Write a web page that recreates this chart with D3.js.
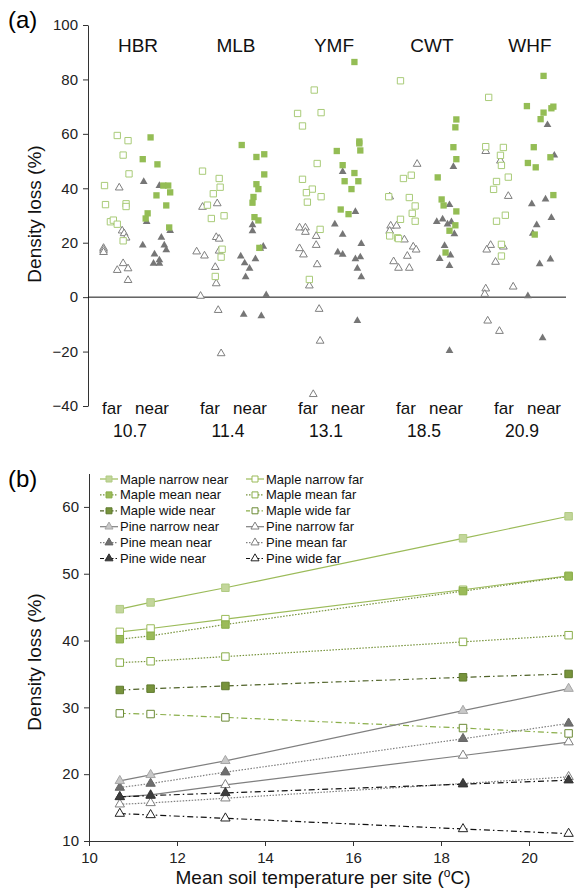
<!DOCTYPE html>
<html>
<head>
<meta charset="utf-8">
<script src="https://cdn.jsdelivr.net/npm/d3@7"></script>
<style>
  body { margin: 0; background: #fff; }
  svg { font-family: "Liberation Sans", Arial, sans-serif; }
</style>
</head>
<body>
<svg width="574" height="894"></svg>
<script>
// ---- panel (a) data: [jitter (% of site step), density loss %] ----
const sites = ["HBR", "MLB", "YMF", "CWT", "WHF"];
const siteTemps = ["10.7", "11.4", "13.1", "18.5", "20.9"];

const mapleFar = [
  [[-26,41],[-25,34],[-13,59.4],[-2,57.5],[-7,52.2],[-1,45.3],[-20,27.7],[-17,28.3],[-13,26.8],[-4,34.3],[-4,33.3],[-7,20.7]],
  [[-26,46.3],[-9,43.6],[-8,40.4],[-15,38],[-21,33.8],[-17,28.9],[-4,29.9],[-6,17.6],[-7,14.7],[-13,7.6]],
  [[-12,76.1],[-29,67.5],[-5,67.8],[-24,62.9],[-9,49.1],[-24,43.3],[-14,39.7],[-20,38.4],[-5,36.9],[-19,34.9],[-6,24.9],[-17,6.5]],
  [[-24,79.5],[-21,43.6],[-13,44.8],[-36,36.9],[-15,36.6],[-9,33.5],[-12,30.8],[-24,28.6],[-9,27.9],[-35,22.5],[-27,21.8],[-26,21.5]],
  [[-34,73.4],[-37,55.3],[-19,55],[-22,52.1],[-21,48.4],[-14,44.1],[-26,42.5],[-29,39.6],[-17,30.1],[-26,27.9],[-21,19.4],[-21,15.1]]
];
const pineFar = [
  [[-27,18],[-27,17.3],[-27,16.5],[-11,40.2],[-8,24.4],[-6,23.4],[-4,21.8],[-7,12.4],[-13,9.9],[-2,10.5],[-2,6.2]],
  [[-26,33.1],[-11,34.4],[-12,22],[-9,21.4],[-32,16.7],[-24,15.2],[-9,17],[-13,11],[-12,5],[-28,0.4],[-10,-4.8],[-7,-20.7]],
  [[-27,25.5],[-21,25.5],[-21,23.9],[-10,22.4],[-10,19.1],[-27,17.9],[-23,15.6],[-9,12],[-17,4.2],[-7,-4.4],[-6,-16.1],[-13,-35.7]],
  [[-7,48.9],[-35,36.9],[-34,26.2],[-28,26.2],[-35,24.3],[-20,21.1],[-11,18.5],[-8,17.4],[-17,15.1],[-31,13.1],[-26,10.7],[-15,10.7]],
  [[-37,53.6],[-22,50.1],[-14,37.1],[-32,19.1],[-36,17.4],[-19,18.5],[-27,12.9],[-37,3.1],[-38,1.1],[-9,3.8],[-35,-8.7],[-23,-12.5]]
];
const mapleNear = [
  [[21,58.7],[13,50.7],[28,48.8],[34,41],[39,41],[41,38.5],[27,37.4],[37,33.7],[18,30.8],[16,28.9],[40,25.6]],
  [[14,55.9],[29,51.5],[37,52.5],[37,45.1],[29,41.5],[31,39.7],[26,36.8],[25,34.7],[27,29.4],[31,28.2],[32,18.1]],
  [[29,86.4],[34,57.2],[34,56.5],[35,53.9],[11,53.7],[17,48.5],[29,45.6],[19,42.6],[33,42.6],[26,39.7],[15,32.2],[23,30.5]],
  [[33,65.3],[32,62.4],[30,55.1],[33,50.7],[14,44],[18,35.9],[20,33.7],[33,31.5],[32,26.4],[26,24.4],[22,16.4]],
  [[22,81.3],[5,70.2],[22,67.8],[30,69.4],[32,70],[19,65.4],[12,55.1],[6,49.3],[14,47.7],[29,51.4],[32,37.5],[13,23]]
];
const pineNear = [
  [[14,42.4],[30,40.9],[17,27.7],[41,24.4],[13,19.1],[32,21.9],[35,19.1],[37,17.3],[25,15.8],[24,12.4],[30,13.6],[30,12.4]],
  [[25,26.5],[25,24.3],[36,18.6],[33,17.9],[13,15],[17,12.5],[28,14],[22,10.5],[18,7.4],[39,0.8],[16,-6.4],[34,-6.9]],
  [[17,46.1],[30,31.4],[9,26.8],[17,23],[36,19.6],[12,16.5],[17,15.7],[35,14.7],[30,14],[32,10.5],[36,7.4],[32,-8.7]],
  [[30,47.9],[26,33.9],[13,27.7],[19,28.6],[24,26.8],[28,27.6],[31,23.2],[21,18.9],[27,15.4],[16,14.1],[26,11.5],[26,-19.7]],
  [[26,63.3],[33,52.1],[10,34.2],[24,36],[30,29.2],[15,26.5],[11,23.4],[18,12.2],[29,13.9],[6,0.4],[21,-15]]
];

// ---- panel (b) data ----
const temps = [10.7, 11.4, 13.1, 18.5, 20.9];
const mapleNarrowNear = [44.7, 45.7, 47.9, 55.3, 58.6];
const mapleMeanNear   = [40.2, 40.7, 42.4, 47.4, 49.6];
const mapleWideNear   = [32.6, 32.8, 33.2, 34.5, 35.0];
const pineNarrowNear  = [19.0, 19.9, 22.0, 29.5, 32.8];
const pineMeanNear    = [18.0, 18.6, 20.3, 25.3, 27.6];
const pineWideNear    = [16.6, 16.8, 17.2, 18.5, 19.1];
const mapleNarrowFar  = [41.3, 41.8, 43.2, 47.6, 49.7];
const mapleMeanFar    = [36.7, 36.9, 37.6, 39.8, 40.8];
const mapleWideFar    = [29.1, 29.0, 28.5, 26.9, 26.1];
const pineNarrowFar   = [16.6, 16.9, 18.4, 22.8, 24.8];
const pineMeanFar     = [15.5, 15.7, 16.4, 18.6, 19.6];
const pineWideFar     = [14.1, 13.9, 13.4, 11.8, 11.1];

const svg = d3.select("svg");

// ================= PANEL (a) =================
const ya = d3.scaleLinear().domain([-40, 100]).range([406, 25]);
const xa = d3.scalePoint().domain(sites).range([130, 522]);
const step = xa.step();

const gA = svg.append("g");
gA.append("g")
    .attr("transform", "translate(88,0)")
    .call(d3.axisLeft(ya).tickValues(d3.range(-40, 101, 20)).tickSize(5).tickSizeOuter(0))
    .call(g => g.selectAll("text").attr("font-size", 15).attr("fill", "#222").attr("dx", -2))
    .call(g => g.selectAll("line,path").attr("stroke", "#333"));

gA.append("line")
    .attr("x1", 88).attr("x2", 566)
    .attr("y1", ya(0)).attr("y2", ya(0))
    .attr("stroke", "#111").attr("stroke-width", 1);

const sq = d3.symbol().type(d3.symbolSquare).size(40);
const tri = d3.symbol().type(d3.symbolTriangle).size(26);

function flat(groups) {
    const out = [];
    groups.forEach((pts, i) => pts.forEach(p => out.push({site: sites[i], dx: p[0], v: p[1]})));
    return out;
}
function drawPts(groups, sym, fill, stroke) {
    gA.append("g").selectAll("path")
        .data(flat(groups))
        .join("path")
        .attr("d", sym)
        .attr("transform", d => `translate(${xa(d.site) + step * d.dx / 100},${ya(d.v)})`)
        .attr("fill", fill)
        .attr("stroke", stroke)
        .attr("stroke-width", 1);
}
drawPts(pineFar, tri, "#fff", "#7f7f7f");
drawPts(mapleFar, sq, "#fff", "#a9cb78");
drawPts(pineNear, tri, "#767676", "none");
drawPts(mapleNear, sq, "#94bd55", "none");

// site names, far/near, temperatures
gA.selectAll("text.site").data(sites).join("text")
    .attr("class", "site")
    .attr("x", d => xa(d) + 8).attr("y", 52)
    .attr("text-anchor", "middle").attr("font-size", 19).attr("fill", "#111")
    .text(d => d);
gA.selectAll("text.far").data(sites).join("text")
    .attr("x", d => xa(d) - 18).attr("y", 414)
    .attr("text-anchor", "middle").attr("font-size", 17).attr("fill", "#111")
    .text("far");
gA.selectAll("text.near").data(sites).join("text")
    .attr("x", d => xa(d) + 22).attr("y", 414)
    .attr("text-anchor", "middle").attr("font-size", 17).attr("fill", "#111")
    .text("near");
gA.selectAll("text.temp").data(sites).join("text")
    .attr("x", d => xa(d)).attr("y", 437)
    .attr("text-anchor", "middle").attr("font-size", 17.5).attr("fill", "#111")
    .text((d, i) => siteTemps[i]);

svg.append("text").attr("x", 8).attr("y", 28).attr("font-size", 24).text("(a)");
svg.append("text")
    .attr("transform", "translate(41,214) rotate(-90)")
    .attr("text-anchor", "middle").attr("font-size", 19).attr("fill", "#111")
    .text("Density loss (%)");

// ================= PANEL (b) =================
const xb = d3.scaleLinear().domain([10, 21]).range([89, 573]);
const yb = d3.scaleLinear().domain([10, 65]).range([841, 473.5]);

svg.append("g")
    .attr("transform", "translate(0,841)")
    .call(d3.axisBottom(xb).tickValues(d3.range(10, 21, 2)).tickSize(5).tickSizeOuter(0))
    .call(g => g.selectAll("text").attr("font-size", 15).attr("fill", "#222").attr("dy", "0.9em"))
    .call(g => g.selectAll("line,path").attr("stroke", "#333"));
svg.append("g")
    .attr("transform", "translate(89,0)")
    .call(d3.axisLeft(yb).tickValues(d3.range(10, 61, 10)).tickSize(5).tickSizeOuter(0))
    .call(g => g.selectAll("text").attr("font-size", 15).attr("fill", "#222").attr("dx", -2))
    .call(g => g.selectAll("line,path").attr("stroke", "#333"));

svg.append("text").attr("x", 8).attr("y", 487).attr("font-size", 24).text("(b)");
svg.append("text")
    .attr("transform", "translate(41,662) rotate(-90)")
    .attr("text-anchor", "middle").attr("font-size", 19).attr("fill", "#111")
    .text("Density loss (%)");
const xt = svg.append("text")
    .attr("x", 323).attr("y", 884)
    .attr("text-anchor", "middle").attr("font-size", 19).attr("fill", "#111");
xt.append("tspan").text("Mean soil temperature per site (");
xt.append("tspan").attr("font-size", 12).attr("dy", -7).text("o");
xt.append("tspan").attr("dy", 7).text("C)");

const DOT = "1.5,1.5", DASHDOT = "6,3,1.5,3";
const seriesB = [
    {name: "Maple narrow near", v: mapleNarrowNear, sym: "sq", fill: "#c3d69b", mstroke: "#b0cb82", line: "#9bbb59", dash: null},
    {name: "Maple mean near",   v: mapleMeanNear,   sym: "sq", fill: "#9bbb59", mstroke: "#8aae4a", line: "#77933c", dash: DOT},
    {name: "Maple wide near",   v: mapleWideNear,   sym: "sq", fill: "#77933c", mstroke: "#5f7a2e", line: "#4f6228", dash: DASHDOT},
    {name: "Pine narrow near",  v: pineNarrowNear,  sym: "tri", fill: "#c8c8c8", mstroke: "#a6a6a6", line: "#7f7f7f", dash: null},
    {name: "Pine mean near",    v: pineMeanNear,    sym: "tri", fill: "#6f6f6f", mstroke: "#666", line: "#7f7f7f", dash: DOT},
    {name: "Pine wide near",    v: pineWideNear,    sym: "tri", fill: "#3c3c3c", mstroke: "#333", line: "#111", dash: DASHDOT},
    {name: "Maple narrow far",  v: mapleNarrowFar,  sym: "sq", fill: "#fff", mstroke: "#9bbb59", line: "#9bbb59", dash: null},
    {name: "Maple mean far",    v: mapleMeanFar,    sym: "sq", fill: "#fff", mstroke: "#8aae4a", line: "#77933c", dash: DOT},
    {name: "Maple wide far",    v: mapleWideFar,    sym: "sq", fill: "#fff", mstroke: "#6b8a35", line: "#8aae4a", dash: DASHDOT},
    {name: "Pine narrow far",   v: pineNarrowFar,   sym: "tri", fill: "#fff", mstroke: "#7f7f7f", line: "#7f7f7f", dash: null},
    {name: "Pine mean far",     v: pineMeanFar,     sym: "tri", fill: "#fff", mstroke: "#7f7f7f", line: "#7f7f7f", dash: DOT},
    {name: "Pine wide far",     v: pineWideFar,     sym: "tri", fill: "#fff", mstroke: "#222", line: "#111", dash: DASHDOT}
];

const symB = {
    sq: d3.symbol().type(d3.symbolSquare).size(56),
    tri: d3.symbol().type(d3.symbolTriangle).size(38)
};
const line = d3.line().x((d, i) => xb(temps[i])).y(d => yb(d));

const gB = svg.append("g");
seriesB.slice().reverse().forEach(s => {
    const g = gB.append("g");
    g.append("path")
        .attr("d", line(s.v))
        .attr("fill", "none")
        .attr("stroke", s.line)
        .attr("stroke-width", 1.2)
        .attr("stroke-dasharray", s.dash);
    g.selectAll("path.m").data(s.v).join("path")
        .attr("class", "m")
        .attr("d", symB[s.sym])
        .attr("transform", (d, i) => `translate(${xb(temps[i])},${yb(d)})`)
        .attr("fill", s.fill)
        .attr("stroke", s.mstroke)
        .attr("stroke-width", 1);
});

// legend
const symL = {
    sq: d3.symbol().type(d3.symbolSquare).size(36),
    tri: d3.symbol().type(d3.symbolTriangle).size(28)
};
const leg = svg.append("g");
seriesB.forEach((s, i) => {
    const col = Math.floor(i / 6), row = i % 6;
    const x0 = 100 + col * 146, y0 = 479 + row * 15.9;
    const g = leg.append("g").attr("transform", `translate(${x0},${y0})`);
    g.append("line").attr("x1", 0).attr("x2", 18).attr("y1", 0).attr("y2", 0)
        .attr("stroke", s.line).attr("stroke-width", 1.2)
        .attr("stroke-dasharray", s.dash ? (s.dash === DOT ? DOT : "4,2,1.5,2") : null);
    g.append("path").attr("d", symL[s.sym]).attr("transform", "translate(9,0)")
        .attr("fill", s.fill).attr("stroke", s.mstroke).attr("stroke-width", 1);
    g.append("text").attr("x", 20).attr("y", 4.5).attr("font-size", 13).attr("fill", "#111").text(s.name);
});
</script>
</body>
</html>
